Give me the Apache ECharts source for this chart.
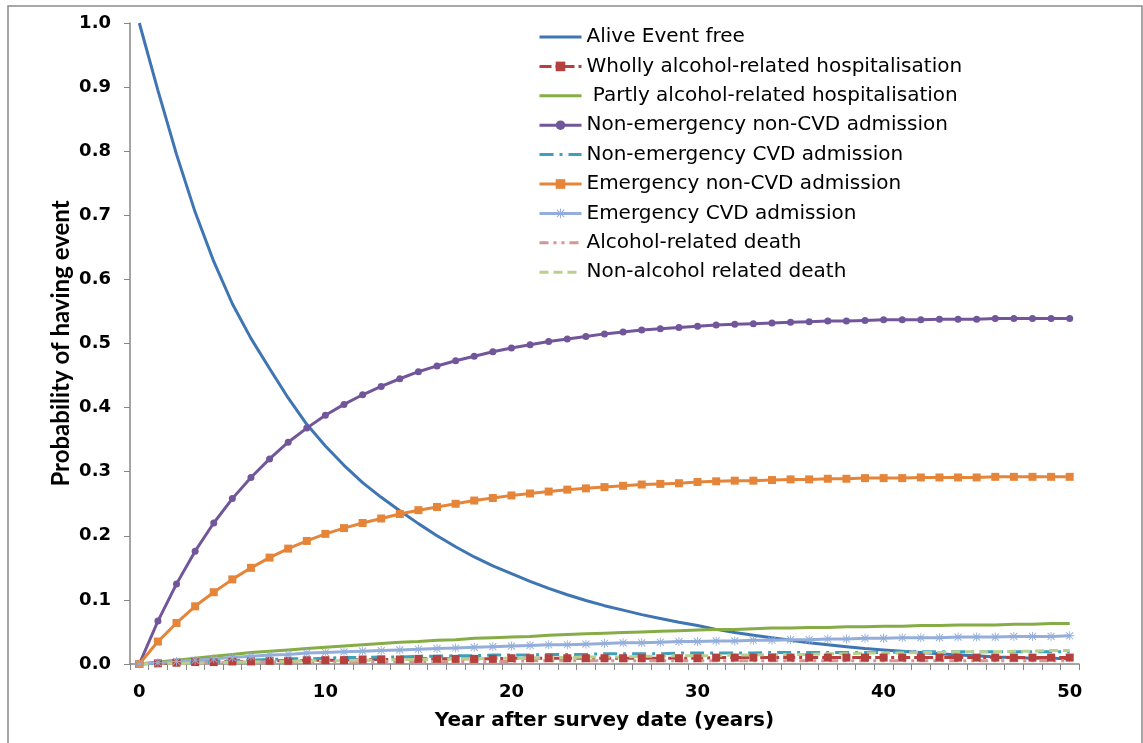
<!DOCTYPE html>
<html><head><meta charset="utf-8">
<script src="https://cdn.jsdelivr.net/npm/echarts@6/dist/echarts.min.js"></script>
<style>html,body{margin:0;padding:0;background:#fff}#c{width:1143px;height:743px}</style>
</head><body><div id="c"></div>
<script>
const years = ['0','1','2','3','4','5','6','7','8','9','10','11','12','13','14','15','16','17','18','19','20','21','22','23','24','25','26','27','28','29','30','31','32','33','34','35','36','37','38','39','40','41','42','43','44','45','46','47','48','49','50'];
const yTicks = ['0.0','0.1','0.2','0.3','0.4','0.5','0.6','0.7','0.8','0.9','1.0'];
const aliveEventFree = [1.000,0.895,0.795,0.705,0.628,0.562,0.508,0.461,0.415,0.374,0.340,0.310,0.283,0.260,0.239,0.219,0.200,0.183,0.167,0.153,0.141,0.129,0.118,0.108,0.099,0.091,0.084,0.077,0.071,0.065,0.060,0.054,0.049,0.045,0.041,0.037,0.033,0.030,0.027,0.024,0.022,0.020,0.018,0.016,0.014,0.013,0.011,0.010,0.009,0.009,0.008];
const whollyAlcohol = [0,0.001,0.002,0.003,0.003,0.004,0.004,0.005,0.005,0.006,0.006,0.006,0.007,0.007,0.007,0.008,0.008,0.008,0.008,0.008,0.009,0.009,0.009,0.009,0.009,0.009,0.009,0.009,0.009,0.009,0.009,0.010,0.010,0.010,0.010,0.010,0.010,0.010,0.010,0.010,0.010,0.010,0.010,0.010,0.010,0.010,0.010,0.010,0.010,0.010,0.010];
const partlyAlcohol = [0,0.003,0.006,0.009,0.012,0.015,0.018,0.020,0.022,0.024,0.026,0.028,0.030,0.032,0.034,0.035,0.037,0.038,0.040,0.041,0.042,0.043,0.045,0.046,0.047,0.048,0.049,0.050,0.051,0.052,0.053,0.054,0.054,0.055,0.056,0.056,0.057,0.057,0.058,0.058,0.059,0.059,0.060,0.060,0.061,0.061,0.061,0.062,0.062,0.063,0.063];
const nonEmergNonCVD = [0,0.067,0.125,0.176,0.220,0.258,0.291,0.320,0.346,0.368,0.388,0.405,0.420,0.433,0.445,0.456,0.465,0.473,0.480,0.487,0.493,0.498,0.503,0.507,0.511,0.515,0.518,0.521,0.523,0.525,0.527,0.529,0.530,0.531,0.532,0.533,0.534,0.535,0.535,0.536,0.537,0.537,0.537,0.538,0.538,0.538,0.539,0.539,0.539,0.539,0.539];
const nonEmergCVD = [0,0.001,0.002,0.003,0.004,0.005,0.006,0.007,0.008,0.008,0.009,0.010,0.010,0.011,0.011,0.012,0.012,0.013,0.013,0.014,0.014,0.014,0.015,0.015,0.015,0.016,0.016,0.016,0.016,0.017,0.017,0.017,0.017,0.017,0.018,0.018,0.018,0.018,0.018,0.018,0.018,0.019,0.019,0.019,0.019,0.019,0.019,0.019,0.019,0.019,0.019];
const emergNonCVD = [0,0.035,0.064,0.090,0.112,0.132,0.150,0.166,0.180,0.192,0.203,0.212,0.220,0.227,0.234,0.240,0.245,0.250,0.255,0.259,0.263,0.266,0.269,0.272,0.274,0.276,0.278,0.280,0.281,0.282,0.284,0.285,0.286,0.286,0.287,0.288,0.288,0.289,0.289,0.290,0.290,0.290,0.291,0.291,0.291,0.291,0.292,0.292,0.292,0.292,0.292];
const emergCVD = [0,0.002,0.004,0.006,0.008,0.010,0.012,0.014,0.015,0.017,0.018,0.019,0.020,0.021,0.022,0.023,0.024,0.025,0.026,0.027,0.028,0.029,0.030,0.030,0.031,0.032,0.033,0.033,0.034,0.035,0.035,0.036,0.036,0.037,0.037,0.038,0.038,0.039,0.039,0.040,0.040,0.041,0.041,0.041,0.042,0.042,0.042,0.043,0.043,0.043,0.044];
const alcoholDeath = [0,0.001,0.001,0.002,0.002,0.002,0.003,0.003,0.003,0.003,0.003,0.004,0.004,0.004,0.004,0.004,0.004,0.004,0.004,0.004,0.004,0.005,0.005,0.005,0.005,0.005,0.005,0.005,0.005,0.005,0.005,0.005,0.005,0.005,0.005,0.005,0.005,0.005,0.005,0.005,0.005,0.005,0.005,0.005,0.005,0.005,0.005,0.005,0.005,0.005,0.005];
const nonAlcoholDeath = [0,0.001,0.001,0.002,0.002,0.003,0.003,0.004,0.004,0.005,0.005,0.005,0.006,0.006,0.007,0.007,0.007,0.008,0.008,0.009,0.009,0.009,0.010,0.010,0.011,0.011,0.011,0.012,0.012,0.013,0.013,0.013,0.014,0.014,0.015,0.015,0.015,0.016,0.016,0.017,0.017,0.017,0.018,0.018,0.019,0.019,0.019,0.020,0.020,0.021,0.021];

const asterisk = 'path://M9,0L11,0L11,20L9,20Z M0,9L20,9L20,11L0,11Z M1.5,3L3,1.5L18.5,17L17,18.5Z M17,1.5L18.5,3L3,18.5L1.5,17Z';

function line(name, data, color, opts) {
  opts = opts || {};
  return {
    name: name, type: 'line', data: data,
    symbol: opts.symbol || 'circle', symbolSize: opts.size || 7,
    showSymbol: !!opts.symbol,
    lineStyle: { color: color, width: 3, type: opts.dash || 'solid' },
    itemStyle: opts.symbol ? { color: color } : { color: 'rgba(0,0,0,0)', borderWidth: 0 },
    emphasis: { disabled: true }, animation: false
  };
}

const chart = echarts.init(document.getElementById('c'), null, { renderer: 'canvas' });
chart.setOption({
  backgroundColor: '#fff',
  animation: false,
  graphic: [{ type: 'rect', shape: { x: 8, y: 6, width: 1134, height: 800 }, style: { fill: 'none', stroke: '#8a8a8a', lineWidth: 1.5 }, silent: true }],
  grid: { left: 130, right: 64, top: 23, bottom: 79 },
  legend: {
    orient: 'vertical', left: 533, top: 22, itemWidth: 42, itemHeight: 12, itemGap: 9.4,
    lineStyle: { width: 3 },
    textStyle: { fontFamily: 'DejaVu Sans', fontSize: 20, color: '#000', lineHeight: 18.4 },
    data: ['Alive Event free','Wholly alcohol-related hospitalisation',' Partly alcohol-related hospitalisation','Non-emergency non-CVD admission','Non-emergency CVD admission','Emergency non-CVD admission','Emergency CVD admission','Alcohol-related death','Non-alcohol related death']
  },
  xAxis: {
    type: 'category', data: years, boundaryGap: true,
    name: 'Year after survey date (years)', nameLocation: 'middle', nameGap: 47,
    nameTextStyle: { fontFamily: 'DejaVu Sans', fontWeight: 'bold', fontSize: 20, color: '#000' },
    axisLine: { lineStyle: { color: '#868686', width: 1.5 } },
    axisTick: { show: true, interval: 0, length: 6, lineStyle: { color: '#868686' } },
    axisLabel: { interval: 9, margin: 19, fontFamily: 'DejaVu Sans', fontWeight: 'bold', fontSize: 18, color: '#000' }
  },
  yAxis: {
    type: 'value', min: 0, max: 1, interval: 0.1,
    name: 'Probability of having event', nameLocation: 'middle', nameGap: 57, nameRotate: 90,
    nameMoveOverlap: false,
    nameTextStyle: { fontFamily: 'Lato', fontWeight: 'bold', fontSize: 24, color: '#000' },
    axisLine: { show: true, lineStyle: { color: '#868686', width: 1.5 } },
    axisTick: { show: true, length: 6, lineStyle: { color: '#868686' } },
    splitLine: { show: false },
    axisLabel: { margin: 19, fontFamily: 'DejaVu Sans', fontWeight: 'bold', fontSize: 18, color: '#000',
      formatter: function (v) { return yTicks[Math.round(v * 10)]; } }
  },
  series: [
    line('Alive Event free', aliveEventFree, '#3F75B3'),
    line('Wholly alcohol-related hospitalisation', whollyAlcohol, '#B6403D', { symbol: 'rect', size: 8, dash: [12, 4, 3, 4] }),
    line(' Partly alcohol-related hospitalisation', partlyAlcohol, '#86AC45'),
    line('Non-emergency non-CVD admission', nonEmergNonCVD, '#72569C', { symbol: 'circle', size: 7 }),
    line('Non-emergency CVD admission', nonEmergCVD, '#3DA0BB', { dash: [14, 6, 3, 6] }),
    line('Emergency non-CVD admission', emergNonCVD, '#E5853A', { symbol: 'rect', size: 8 }),
    line('Emergency CVD admission', emergCVD, '#93AEDA', { symbol: asterisk, size: 9 }),
    line('Alcohol-related death', alcoholDeath, '#D49593', { dash: [9, 5, 3, 5, 3, 5] }),
    line('Non-alcohol related death', nonAlcoholDeath, '#B7D18C', { dash: [9, 5] })
  ]
});
</script></body></html>
